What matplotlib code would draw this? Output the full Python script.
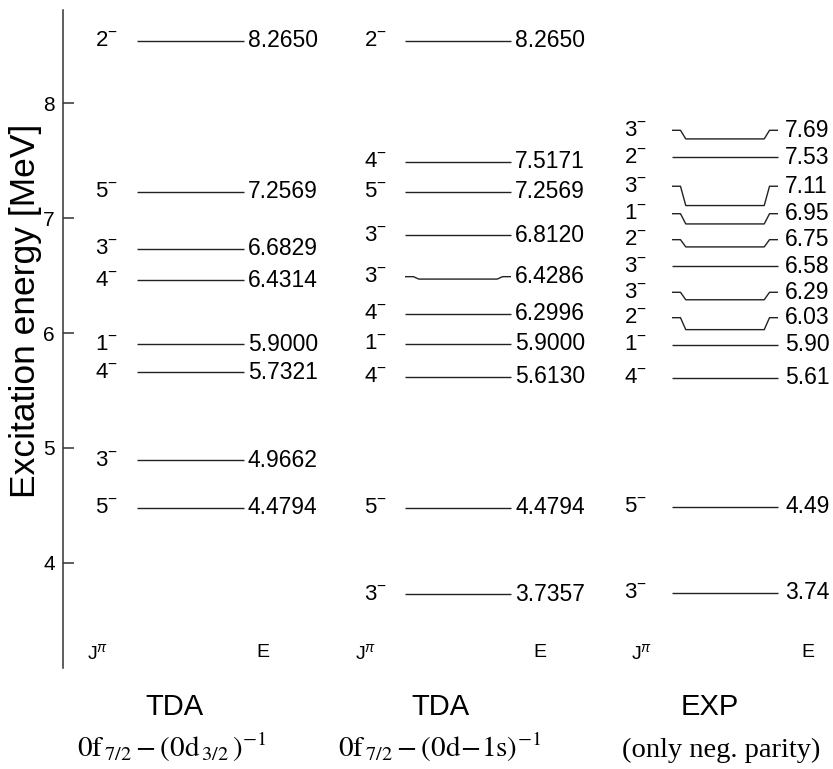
import matplotlib
matplotlib.use("Agg")
import matplotlib.pyplot as plt
import matplotlib.transforms as mtransforms

plt.rcParams['font.family'] = ['Liberation Sans', 'DejaVu Sans']
plt.rcParams['mathtext.fontset'] = 'custom'
plt.rcParams['mathtext.rm'] = 'Liberation Sans'
plt.rcParams['mathtext.it'] = 'Liberation Sans:italic'
plt.rcParams['mathtext.sf'] = 'Liberation Sans'

# --- data: spin/parity, energy text, where the label sits, where the level line sits
tda1_jpi = ['2', '5', '3', '4', '1', '4', '3', '5']
tda1_e = ['8.2650', '7.2569', '6.6829', '6.4314', '5.9000', '5.7321', '4.9662', '4.4794']
tda1_pos = [8.545, 7.228, 6.735, 6.462, 5.903, 5.661, 4.893, 4.480]
tda1_lev = [8.545, 7.228, 6.735, 6.462, 5.903, 5.661, 4.893, 4.480]

tda2_jpi = ['2', '4', '5', '3', '3', '4', '1', '4', '5', '3']
tda2_e = ['8.2650', '7.5171', '7.2569', '6.8120', '6.4286', '6.2996', '5.9000',
          '5.6130', '4.4794', '3.7357']
tda2_pos = [8.545, 7.492, 7.228, 6.851, 6.491, 6.169, 5.905, 5.620, 4.480, 3.729]
tda2_lev = [8.545, 7.492, 7.228, 6.851, 6.470, 6.169, 5.905, 5.620, 4.480, 3.729]

exp_jpi = ['3', '2', '3', '1', '2', '3', '3', '2', '1', '4', '5', '3']
exp_e = ['7.69', '7.53', '7.11', '6.95', '6.75', '6.58', '6.29', '6.03', '5.90',
         '5.61', '4.49', '3.74']
exp_pos = [7.765, 7.53, 7.278, 7.039, 6.813, 6.58, 6.355, 6.134, 5.90, 5.61, 4.49, 3.74]
exp_lev = [7.69, 7.53, 7.11, 6.95, 6.75, 6.58, 6.29, 6.03, 5.90, 5.61, 4.49, 3.74]

titles = ['TDA', 'TDA', 'EXP']
subtitles = [r'$0\mathrm{f}_{\,7/2}-(0\mathrm{d}_{\,3/2}\,)^{-1}$',
             r'$0\mathrm{f}_{\,7/2}-(0\mathrm{d}\!-\!1\mathrm{s})^{-1}$',
             '(only neg. parity)']

columns = [
    (tda1_jpi, tda1_e, tda1_pos, tda1_lev),
    (tda2_jpi, tda2_e, tda2_pos, tda2_lev),
    (exp_jpi, exp_e, exp_pos, exp_lev),
]

# layout (pixel-like x units)
line_x0 = [137, 405, 672]
line_x1 = [244, 511, 778]
jpi_x = [118, 387, 647]
en_x = [248, 515, 785]
head_jx = [98, 366, 642]
head_ex = [263, 540, 808]
title_x = [174, 440, 710]
sub_x = [172, 440, 721]

fig = plt.figure(figsize=(8.33, 7.69), dpi=100)
ax = fig.add_axes([63.3 / 833, 101 / 769, 1 - 63.3 / 833, 658 / 769])
ax.set_xlim(63.3, 833)
ax.set_ylim(3.085, 8.812)

for k, (jpi, en, pos, lev) in enumerate(columns):
    x0, x1 = line_x0[k], line_x1[k]
    w = x1 - x0
    for j, e, p, l in zip(jpi, en, pos, lev):
        if abs(p - l) > 1e-6:
            xs = [x0, x0 + 0.08 * w, x0 + 0.13 * w, x1 - 0.13 * w, x1 - 0.08 * w, x1]
            ys = [p, p, l, l, p, p]
        else:
            xs = [x0, x1]
            ys = [p, p]
        ax.plot(xs, ys, color='#222222', lw=1.0, solid_capstyle='butt')
        ax.text(jpi_x[k], p, '$' + j + '^{-}$', ha='right', va='center', fontsize=16)
        ax.text(en_x[k], p, e, ha='left', va='center', fontsize=16.5)
    ax.text(head_jx[k], 3.216, r'$\mathrm{J}^{\pi}$', ha='center', va='center', fontsize=14)
    ax.text(head_ex[k], 3.216, 'E', ha='center', va='center', fontsize=14)

    trans = mtransforms.blended_transform_factory(ax.transData, fig.transFigure)
    ax.text(title_x[k], 54 / 769, titles[k], transform=trans, ha='center',
            va='baseline', fontsize=21, clip_on=False)
    if k < 2:
        ax.text(sub_x[k], 12 / 769, subtitles[k], transform=trans, ha='center',
                va='baseline', fontsize=21, math_fontfamily='stix', clip_on=False)
    else:
        ax.text(sub_x[k], 12 / 769, subtitles[k], transform=trans, ha='center',
                va='baseline', fontsize=20.5, family='Liberation Serif', clip_on=False)

for s in ['top', 'right', 'bottom']:
    ax.spines[s].set_visible(False)
ax.spines['left'].set_linewidth(1.1)
ax.spines['left'].set_color('#333333')
ax.set_xticks([])
ax.set_yticks([4, 5, 6, 7, 8])
ax.tick_params(axis='y', direction='in', length=8, width=1.1, color='#333333',
               labelsize=15, pad=6)
ax.set_ylabel('Excitation energy [MeV]', fontsize=25.5)
ax.yaxis.set_label_coords(-0.028, 0.543)

fig.savefig('out.png', dpi=100)
